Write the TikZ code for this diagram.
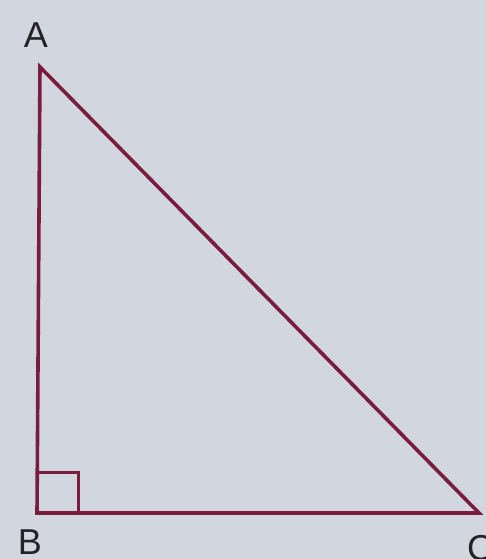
\documentclass[tikz,border=0pt]{standalone}
\usepackage{fontspec}
\setmainfont{Liberation Sans}
\usepackage{xcolor}
\definecolor{paper}{RGB}{210,215,223}
\definecolor{ink}{RGB}{122,28,62}
\definecolor{lbl}{RGB}{35,35,40}
\tikzset{side/.style={ink,line width=3.6pt,line join=miter},
  vlabel/.style={text=lbl,font=\fontsize{36}{36}\selectfont,inner sep=0pt}}

\begin{document}
\begin{tikzpicture}[x=1pt,y=-1pt]
  \fill[paper] (0,0) rectangle (486,559);
  \useasboundingbox (0,0) rectangle (486,559);
  % vertices
  \coordinate (A) at (40,67);
  \coordinate (B) at (37,513);
  \coordinate (C) at (479,513);
  \draw[side] (A) -- (B) -- (C) -- cycle;
  % right angle mark
  \draw[ink,line width=3pt] ([yshift=41pt]B) -| ([xshift=41pt]B);
  \node[vlabel] (labA) at (36,35) {A};
  \node[vlabel] (labB) at (30,542) {B};
  \node[vlabel] (labC) at (480,548) {C};
\end{tikzpicture}
\end{document}
